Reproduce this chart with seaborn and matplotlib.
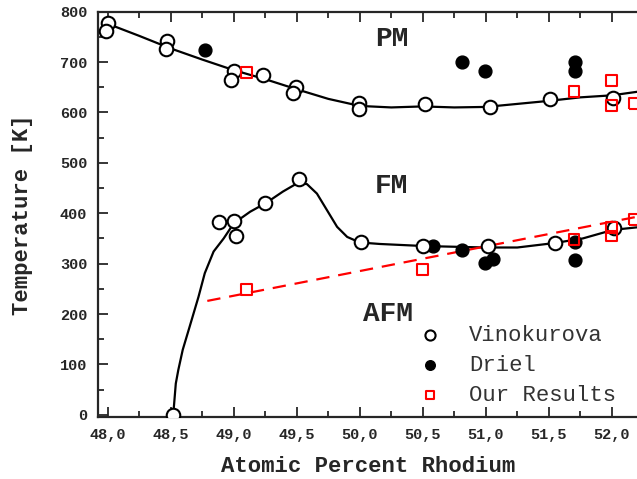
import numpy as np
import pandas as pd
import seaborn as sns
import matplotlib.pyplot as plt
from matplotlib.ticker import MultipleLocator, FuncFormatter

# Vinokurova (open circles)
vino_x = [48.00, 47.99, 48.47, 48.46, 49.00, 48.98, 49.23, 49.49, 49.47, 49.99, 49.99,
          50.52, 51.03, 51.51, 52.01,
          48.52, 48.88, 49.00, 49.02, 49.25, 49.52, 50.01, 50.50, 51.02, 51.55, 52.02]
vino_y = [778, 762, 742, 726, 682, 664, 675, 650, 638, 618, 607,
          616, 611, 626, 628,
          0, 382, 385, 355, 420, 467, 342, 335, 334, 341, 370]

# Driel (filled circles)
driel_x = [48.77, 50.81, 50.99, 51.71, 51.71,
           50.58, 50.81, 50.99, 51.06, 51.71, 51.71]
driel_y = [723, 700, 682, 700, 682,
           335, 327, 301, 310, 343, 308]

# Our Results (red squares)
ours_x = [49.10, 51.70, 52.00, 52.00, 52.18,
          49.10, 50.50, 51.70, 52.00, 52.00, 52.18]
ours_y = [680, 641, 664, 614, 618,
          249, 289, 348, 372, 355, 388]

# PM / FM boundary curve
pm_x = [48.00, 48.25, 48.50, 48.75, 49.00, 49.25, 49.50, 49.75, 50.00, 50.25,
        50.50, 50.75, 51.00, 51.25, 51.50, 51.75, 52.00, 52.20]
pm_y = [776, 752, 727, 705, 684, 666, 646, 627, 613, 610,
        612, 610, 611, 617, 623, 630, 634, 641]

# FM / AFM boundary curve
fm_x = [48.52, 48.54, 48.56, 48.595, 48.65, 48.72, 48.77, 48.84, 48.92, 49.00,
        49.13, 49.26, 49.39, 49.50, 49.58, 49.66, 49.74, 49.82, 49.90, 50.00,
        50.16, 50.50, 51.00, 51.25, 51.55, 51.77, 52.01, 52.20]
fm_y = [1, 62, 89, 129, 175, 234, 281, 324, 350, 380,
        403, 421, 443, 459, 458, 439, 406, 373, 353, 342,
        339, 335, 332, 332, 341, 350, 367, 372]

# our AFM boundary (dashed red)
afm_x = [48.79, 52.20]
afm_y = [226, 393]

sns.set_style("ticks")
plt.rcParams['font.family'] = ['Liberation Mono', 'DejaVu Sans']

fig = plt.figure(figsize=(6.37, 4.79), dpi=100)
ax = fig.add_axes([98.3 / 637, 61.7 / 479, 1 - 98.3 / 637, (467.3 - 61.7) / 479])

sns.lineplot(x=pm_x, y=pm_y, sort=False, estimator=None, color='black', lw=1.6, ax=ax)
sns.lineplot(x=fm_x, y=fm_y, sort=False, estimator=None, color='black', lw=1.6, ax=ax)
sns.lineplot(x=afm_x, y=afm_y, sort=False, estimator=None, color='red', lw=1.6,
             dashes=False, ax=ax).lines[-1].set_dashes([6, 4])

sns.scatterplot(x=vino_x, y=vino_y, marker='o', s=95, facecolor='white',
                edgecolor='black', linewidth=1.5, label='Vinokurova', ax=ax, zorder=5)
sns.scatterplot(x=driel_x, y=driel_y, marker='o', s=85, color='black',
                edgecolor='black', linewidth=1.0, label='Driel', ax=ax, zorder=4)
sns.scatterplot(x=ours_x, y=ours_y, marker='s', s=60, facecolor='none',
                edgecolor='red', linewidth=1.5, label='Our Results', ax=ax, zorder=6)

ax.set_xlim(47.925, 52.2)
ax.set_ylim(-5, 800)

ax.xaxis.set_major_locator(MultipleLocator(0.5))
ax.xaxis.set_minor_locator(MultipleLocator(0.25))
ax.yaxis.set_major_locator(MultipleLocator(100))
ax.yaxis.set_minor_locator(MultipleLocator(50))
ax.xaxis.set_major_formatter(FuncFormatter(lambda v, p: f"{v:.1f}".replace('.', ',')))
ax.tick_params(which='both', direction='in', top=True, right=False, width=1.3)
ax.tick_params(which='major', length=7, labelsize=11, pad=8)
ax.tick_params(which='minor', length=4)
for lab in ax.get_xticklabels() + ax.get_yticklabels():
    lab.set_fontweight('bold')

for s in ['left', 'bottom', 'top']:
    ax.spines[s].set_linewidth(1.6)
ax.spines['right'].set_visible(False)

ax.set_xlabel('Atomic Percent Rhodium', fontsize=16, fontweight='bold', labelpad=10)
ax.set_ylabel('Temperature [K]', fontsize=16, fontweight='bold', labelpad=19)

ax.text(50.25, 745, 'PM', fontsize=20, fontweight='bold', ha='center', va='center')
ax.text(50.25, 455, 'FM', fontsize=20, fontweight='bold', ha='center', va='center')
ax.text(50.22, 200, 'AFM', fontsize=20, fontweight='bold', ha='center', va='center')

leg = ax.legend(loc='upper left', bbox_to_anchor=(0.575, 0.228), frameon=False,
                markerscale=0.75, fontsize=16, handletextpad=0.75, labelspacing=0.4,
                borderaxespad=0, borderpad=0)
for t in leg.get_texts():
    t.set_color('#333333')

fig.savefig('out.png', dpi=100)
